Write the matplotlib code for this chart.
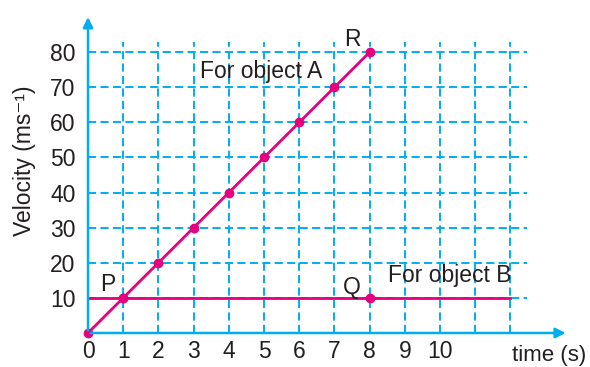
import matplotlib
matplotlib.use("Agg")
import matplotlib.pyplot as plt

plt.rcParams['font.family'] = ['Liberation Sans', 'DejaVu Sans']

# velocity-time data for the two objects
time_a = [0, 1, 2, 3, 4, 5, 6, 7, 8]
vel_a = [0, 10, 20, 30, 40, 50, 60, 70, 80]
time_b = [0, 12]
vel_b = [10, 10]
time_b_pts = [1, 8]
vel_b_pts = [10, 10]

x_ticks = [0, 1, 2, 3, 4, 5, 6, 7, 8, 9, 10]
y_ticks = [10, 20, 30, 40, 50, 60, 70, 80]
grid_x = [1, 2, 3, 4, 5, 6, 7, 8, 9, 10, 11, 12]
grid_y = [10, 20, 30, 40, 50, 60, 70, 80]

cyan = '#00aeef'
pink = '#e6007e'
ink = '#231f20'
fs = 16.5

fig = plt.figure(figsize=(5.9, 3.67), dpi=100)
ax = fig.add_axes([0, 0, 1, 1])
ax.set_xlim(-2.5, 14.26)
ax.set_ylim(-9.69, 94.87)

for s in ax.spines.values():
    s.set_visible(False)
ax.spines['left'].set_position(('data', 0))
ax.spines['bottom'].set_position(('data', 0))

# dashed grid
for gx in grid_x:
    ax.plot([gx, gx], [0, 83], color=cyan, lw=1.4, dashes=(4.2, 2.2))
for gy in grid_y:
    ax.plot([0, 12.47], [gy, gy], color=cyan, lw=1.4, dashes=(4.2, 2.2))

# axes with arrow heads
ax.annotate('', xy=(13.65, 0), xytext=(0, 0),
            arrowprops=dict(arrowstyle='-|>', color=cyan, lw=1.8, mutation_scale=15))
ax.annotate('', xy=(0, 90.8), xytext=(0, 0),
            arrowprops=dict(arrowstyle='-|>', color=cyan, lw=1.8, mutation_scale=15))

# object lines
ax.plot(time_b, vel_b, color=pink, lw=2)
ax.plot(time_a, vel_a, color=pink, lw=2, marker='o', ms=6)
ax.plot(time_b_pts, vel_b_pts, 'o', color=pink, ms=6)

ax.set_xticks(x_ticks)
ax.set_xticklabels([str(v) for v in x_ticks])
ax.set_yticks(y_ticks)
ax.set_yticklabels([str(v) for v in y_ticks])
ax.tick_params(length=0, labelsize=fs, colors=ink)
ax.tick_params(axis='x', pad=5)
ax.tick_params(axis='y', pad=9)

ax.text(-1.8, 49.2, 'Velocity (ms\u207b\u00b9)', rotation=90, ha='center', va='center',
        fontsize=fs, color=ink)
ax.text(14.15, -6.3, 'time (s)', ha='right', va='center', fontsize=16, color=ink)

ax.text(3.18, 74.6, 'For object A', ha='left', va='center', fontsize=fs, color=ink)
ax.text(8.52, 16.5, 'For object B', ha='left', va='center', fontsize=fs, color=ink)
ax.text(7.5, 83.5, 'R', ha='center', va='center', fontsize=fs, color=ink)
ax.text(7.5, 13.1, 'Q', ha='center', va='center', fontsize=fs, color=ink)
ax.text(0.57, 13.7, 'P', ha='center', va='center', fontsize=fs, color=ink)

fig.savefig('out.png', dpi=100)
